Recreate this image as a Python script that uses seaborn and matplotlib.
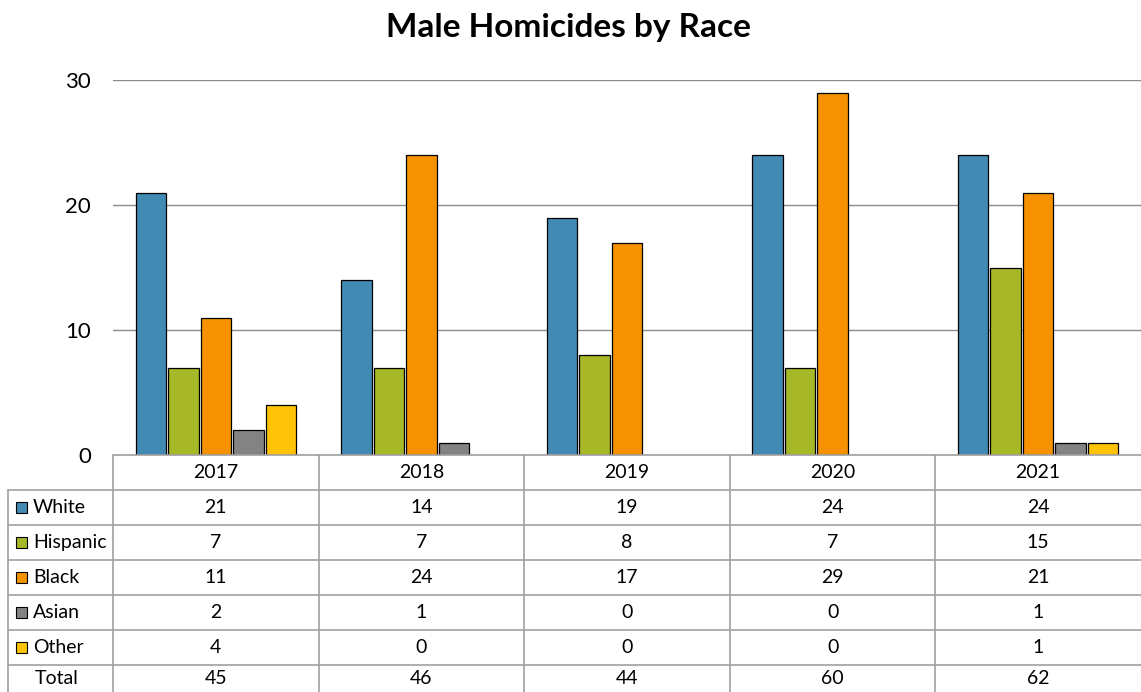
import matplotlib
matplotlib.use("Agg")
import matplotlib.pyplot as plt
from matplotlib.lines import Line2D
from matplotlib.patches import Rectangle
import seaborn as sns
import pandas as pd

years = ["2017", "2018", "2019", "2020", "2021"]
races = ["White", "Hispanic", "Black", "Asian", "Other"]
white = [21, 14, 19, 24, 24]
hispanic = [7, 7, 8, 7, 15]
black = [11, 24, 17, 29, 21]
asian = [2, 1, 0, 0, 1]
other = [4, 0, 0, 0, 1]
totals = [45, 46, 44, 60, 62]
colors = ["#418AB3", "#A6B727", "#F69200", "#838383", "#FEC306"]

series = [white, hispanic, black, asian, other]
rows = []
for r, vals in zip(races, series):
    for y, v in zip(years, vals):
        rows.append({"Year": y, "Race": r, "Count": v})
df = pd.DataFrame(rows)

sns.set_theme(style="white")
plt.rcParams['font.family'] = ['Lato', 'DejaVu Sans']
plt.rcParams['text.color'] = 'black'

W, H = 1141, 692
fig = plt.figure(figsize=(W / 100, H / 100), dpi=100)

def fx(x):
    return x / W

def fy(y):
    return 1 - y / H

left, right, top, bottom = 113, 1141, 80, 455
ax = fig.add_axes([fx(left), fy(bottom), fx(right - left), (bottom - top) / H])

sns.barplot(data=df, x="Year", y="Count", hue="Race", order=years, hue_order=races,
            palette=colors, edgecolor="black", linewidth=0.9, width=0.79, gap=0.06,
            ax=ax, legend=False, saturation=1)
for p in ax.patches:
    if p.get_height() == 0:
        p.set_visible(False)

ax.set_ylim(0, 30)
ax.set_xlim(-0.5, 4.5)
ax.set_yticks([0, 10, 20, 30])
ax.yaxis.grid(True, color="#8c8c8c", linewidth=1)
ax.set_axisbelow(True)
for s in ax.spines.values():
    s.set_visible(False)
ax.set_xticks([])
ax.set_xlabel("")
ax.set_ylabel("")
ax.tick_params(axis="y", labelsize=16, length=0, pad=16, colors="black")

fig.text(fx(568), fy(28), "Male Homicides by Race", ha="center", va="center",
         fontsize=24, fontweight="bold", color="black")

# Data table
lc = "#a0a0a0"
row_h = 35
hdr_top = 455
row_tops = [hdr_top + row_h * i for i in range(7)]
col_edges = [left + (right - left) * i / len(years) for i in range(len(years) + 1)]
tab_left = 8

def hline(x0, x1, y):
    fig.add_artist(Line2D([fx(x0), fx(x1)], [fy(y), fy(y)], color=lc, linewidth=1.2))

def vline(x, y0, y1):
    fig.add_artist(Line2D([fx(x), fx(x)], [fy(y0), fy(y1)], color=lc, linewidth=1.2))

hline(left, right, hdr_top)
for yy in row_tops[1:]:
    hline(tab_left, right, yy)
vline(tab_left, row_tops[1], H)
for x in col_edges[:-1]:
    vline(x, hdr_top, H)

fs = 14
for i, yr in enumerate(years):
    cx = (col_edges[i] + col_edges[i + 1]) / 2
    fig.text(fx(cx), fy(hdr_top + row_h / 2), yr, ha="center", va="center", fontsize=fs)

for j, (r, vals, c) in enumerate(zip(races, series, colors)):
    cy = row_tops[1 + j] + row_h / 2
    fig.add_artist(Rectangle((fx(16), fy(cy + 5.5)), fx(11), 11 / H, facecolor=c,
                             edgecolor="black", linewidth=0.8, transform=fig.transFigure))
    fig.text(fx(33), fy(cy), r, ha="left", va="center", fontsize=fs)
    for i, v in enumerate(vals):
        cx = (col_edges[i] + col_edges[i + 1]) / 2
        fig.text(fx(cx), fy(cy), str(v), ha="center", va="center", fontsize=fs)

cy = row_tops[6] + 14
fig.text(fx(35), fy(cy), "Total", ha="left", va="center", fontsize=fs)
for i, v in enumerate(totals):
    cx = (col_edges[i] + col_edges[i + 1]) / 2
    fig.text(fx(cx), fy(cy), str(v), ha="center", va="center", fontsize=fs)

fig.savefig("out.png", dpi=100)
